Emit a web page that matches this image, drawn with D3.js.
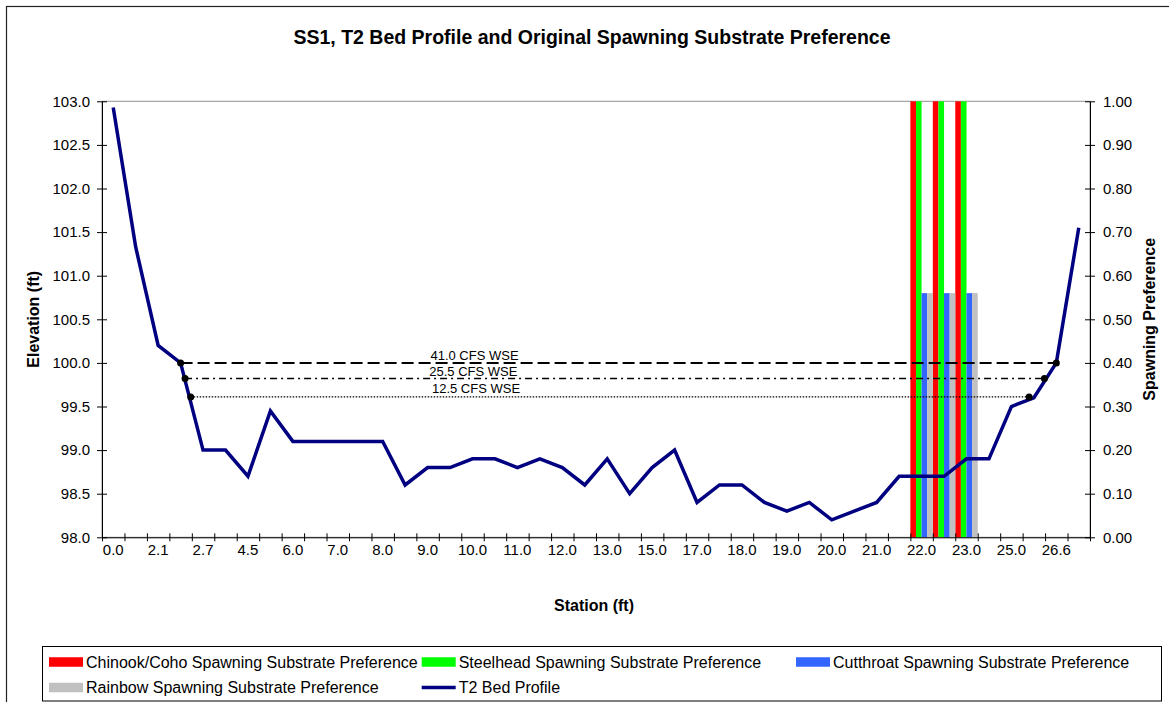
<!DOCTYPE html>
<html>
<head>
<meta charset="utf-8">
<script src="https://cdn.jsdelivr.net/npm/d3@7"></script>
<style>
body { margin: 0; background: #fff; }
text { font-family: "Liberation Sans", Arial, sans-serif; fill: #000; }
</style>
</head>
<body>
<svg id="chart" width="1169" height="702"></svg>
<script>

// station categories (every second one is labelled on the axis)
var stations = ["0.0", "1.0", "2.1", "2.5", "2.7", "3.5", "4.5", "5.0", "6.0", "6.5",
    "7.0", "7.5", "8.0", "8.5", "9.0", "9.5", "10.0", "10.5", "11.0", "11.5",
    "12.0", "12.5", "13.0", "14.0", "15.0", "16.0", "17.0", "17.5", "18.0", "18.5",
    "19.0", "19.5", "20.0", "20.5", "21.0", "21.5", "22.0", "22.5", "23.0", "24.0",
    "25.0", "26.0", "26.6", "27.0"];

var bedElev = [102.93, 101.33, 100.2, 100.0, 99.0, 99.0, 98.7, 99.45, 99.1, 99.1,
    99.1, 99.1, 99.1, 98.6, 98.8, 98.8, 98.9, 98.9, 98.8, 98.9,
    98.8, 98.6, 98.9, 98.5, 98.8, 99.0, 98.4, 98.6, 98.6, 98.4,
    98.3, 98.4, 98.2, 98.3, 98.4, 98.7, 98.7, 98.7, 98.9, 98.9,
    99.5, 99.6, 100.0, 101.55];

// spawning substrate preference (zero everywhere else)
var prefStations = ["22.0", "22.5", "23.0"];
var chinookPref = [1.0, 1.0, 1.0];
var steelheadPref = [1.0, 1.0, 1.0];
var cutthroatPref = [0.56, 0.56, 0.56];
var rainbowPref = [0.56, 0.56, 0.56];

// water surface elevations, start / end given as station index
var wseNames = ["41.0 CFS WSE", "25.5 CFS WSE", "12.5 CFS WSE"];
var wseElev = [100.0, 99.82, 99.61];
var wseFrom = [3, 3.2, 3.45];
var wseTo = [42, 41.47, 40.79];

var elevTicks = [98.0, 98.5, 99.0, 99.5, 100.0, 100.5, 101.0, 101.5, 102.0, 102.5, 103.0];
var prefTicks = [0, 0.1, 0.2, 0.3, 0.4, 0.5, 0.6, 0.7, 0.8, 0.9, 1.0];

var seriesNames = ["Chinook/Coho Spawning Substrate Preference", "Steelhead Spawning Substrate Preference",
    "Cutthroat Spawning Substrate Preference", "Rainbow Spawning Substrate Preference"];
var seriesColors = ["#ff0000", "#00ff00", "#3366ff", "#c0c0c0"];
var seriesValues = [chinookPref, steelheadPref, cutthroatPref, rainbowPref];

var plotLeft = 102, plotRight = 1090, plotTop = 101.3, plotBottom = 537.3;

var svg = d3.select('#chart');

svg.append('rect').attr('width', 1169).attr('height', 702).attr('fill', '#fff');

// chart area border
svg.append('rect')
    .attr('x', 6.5).attr('y', 6.5)
    .attr('width', 1200).attr('height', 800)
    .attr('fill', 'none').attr('stroke', '#222').attr('stroke-width', 1.2);

var x = d3.scaleBand().domain(stations).range([plotLeft, plotRight]).padding(0);
var xIdx = d3.scaleLinear().domain([0, stations.length]).range([plotLeft, plotRight]);
var xSub = d3.scaleBand().domain(d3.range(seriesNames.length)).range([0, x.bandwidth()]).padding(0);
var yL = d3.scaleLinear().domain([98, 103]).range([plotBottom, plotTop]);
var yR = d3.scaleLinear().domain([0, 1]).range([plotBottom, plotTop]);

// plot area border
svg.append('rect')
    .attr('x', plotLeft).attr('y', plotTop)
    .attr('width', plotRight - plotLeft).attr('height', plotBottom - plotTop)
    .attr('fill', 'none').attr('stroke', '#909090').attr('stroke-width', 1);

// columns
seriesValues.forEach(function(vals, s){
    svg.append('g').selectAll('rect')
        .data(prefStations)
        .enter()
        .append('rect')
        .attr('x', function(d){ return x(d) + xSub(s); })
        .attr('width', xSub.bandwidth())
        .attr('y', function(d, i){ return yR(vals[i]); })
        .attr('height', function(d, i){ return yR(0) - yR(vals[i]); })
        .attr('fill', seriesColors[s]);
});

// water surface lines
var wseDash = ['12,5', '7,4,2,4', '1.5,1.5'];
var wseWidth = [2, 1.5, 1.3];
var labelY = [360, 375.5, 393.3];
var labelX = [474.5, 473.3, 476];

for(let i = 0; i < wseNames.length; i++){

    let x1 = xIdx(wseFrom[i] + 0.5);
    let x2 = xIdx(wseTo[i] + 0.5);

    svg.append('line')
        .attr('x1', x1).attr('x2', x2)
        .attr('y1', yL(wseElev[i])).attr('y2', yL(wseElev[i]))
        .attr('stroke', '#000')
        .attr('stroke-width', wseWidth[i])
        .attr('stroke-dasharray', wseDash[i]);

    svg.append('text')
        .attr('x', labelX[i]).attr('y', labelY[i])
        .attr('text-anchor', 'middle')
        .attr('font-size', '13px')
        .text(wseNames[i]);
}

// bed profile
var line = d3.line()
    .x(function(d, i){ return x(stations[i]) + x.bandwidth() / 2; })
    .y(function(d){ return yL(d); });

svg.append('path')
    .datum(bedElev)
    .attr('d', line)
    .attr('fill', 'none')
    .attr('stroke', '#000080')
    .attr('stroke-width', 3.5)
    .attr('stroke-linejoin', 'miter');

// wse end points
for(let i = 0; i < wseNames.length; i++){
    [wseFrom[i], wseTo[i]].forEach(function(p){
        svg.append('circle')
            .attr('cx', xIdx(p + 0.5))
            .attr('cy', yL(wseElev[i]))
            .attr('r', 3.5)
            .attr('fill', '#000');
    });
}

// axes
var axL = svg.append('g')
    .attr('transform', 'translate(' + plotLeft + ',0)')
    .call(d3.axisLeft(yL).tickValues(elevTicks).tickFormat(d3.format('.1f')).tickSize(5).tickSizeOuter(0).tickPadding(7));
axL.selectAll('.tick line').attr('x1', 5);

var axR = svg.append('g')
    .attr('transform', 'translate(' + plotRight + ',0)')
    .call(d3.axisRight(yR).tickValues(prefTicks).tickFormat(d3.format('.2f')).tickSize(5).tickSizeOuter(0).tickPadding(8));
axR.selectAll('.tick line').attr('x1', -5);

var axB = svg.append('g')
    .attr('transform', 'translate(0,' + plotBottom + ')')
    .call(d3.axisBottom(x)
        .tickFormat(function(d, i){ return i % 2 == 0 ? d : ''; })
        .tickSize(0).tickSizeOuter(0).tickPadding(7));

svg.append('g')
    .attr('transform', 'translate(0,' + plotBottom + ')')
    .call(d3.axisBottom(xIdx).tickValues(d3.range(0, stations.length + 1)).tickFormat('').tickSize(4).tickSizeOuter(0))
    .call(function(g){ g.select('.domain').remove(); })
    .selectAll('.tick line').attr('y1', -4).attr('stroke', '#000');

[axL, axR, axB].forEach(function(g){
    g.selectAll('text').attr('font-size', '15px').attr('font-family', '"Liberation Sans", Arial, sans-serif').attr('fill', '#000');
    g.selectAll('line, path').attr('stroke', '#000');
});

// titles
svg.append('text')
    .attr('x', 592).attr('y', 43.5)
    .attr('text-anchor', 'middle')
    .attr('font-size', '19.5px').attr('font-weight', 'bold')
    .text('SS1, T2 Bed Profile and Original Spawning Substrate Preference');

svg.append('text')
    .attr('x', 594).attr('y', 611)
    .attr('text-anchor', 'middle')
    .attr('font-size', '16px').attr('font-weight', 'bold')
    .text('Station (ft)');

svg.append('text')
    .attr('transform', 'translate(38.5,' + (plotTop + plotBottom) / 2 + ') rotate(-90)')
    .attr('text-anchor', 'middle')
    .attr('font-size', '16px').attr('font-weight', 'bold')
    .text('Elevation (ft)');

svg.append('text')
    .attr('transform', 'translate(1155,' + (plotTop + plotBottom) / 2 + ') rotate(-90)')
    .attr('text-anchor', 'middle')
    .attr('font-size', '16px').attr('font-weight', 'bold')
    .text('Spawning Preference');

// legend
svg.append('rect')
    .attr('x', 42.5).attr('y', 646.5)
    .attr('width', 1119).attr('height', 54.5)
    .attr('fill', '#fff').attr('stroke', '#000').attr('stroke-width', 1);

var legendItems = [
    {name: seriesNames[0], color: seriesColors[0], col: 0, row: 0},
    {name: seriesNames[1], color: seriesColors[1], col: 1, row: 0},
    {name: seriesNames[2], color: seriesColors[2], col: 2, row: 0},
    {name: seriesNames[3], color: seriesColors[3], col: 0, row: 1},
    {name: 'T2 Bed Profile', color: '#000080', col: 1, row: 1, isLine: true}
];
var colX = [49, 421.7, 796];
var rowY = [662, 687.5];

legendItems.forEach(function(item){
    let lx = colX[item.col];
    let ly = rowY[item.row];
    if(item.isLine){
        svg.append('line')
            .attr('x1', lx).attr('x2', lx + 34)
            .attr('y1', ly).attr('y2', ly)
            .attr('stroke', item.color).attr('stroke-width', 3.5);
    } else {
        svg.append('rect')
            .attr('x', lx).attr('y', ly - 4.75)
            .attr('width', 34).attr('height', 9.5)
            .attr('fill', item.color);
    }
    svg.append('text')
        .attr('x', lx + 37).attr('y', ly + 5.5)
        .attr('font-size', '16px')
        .text(item.name);
});

</script>
</body>
</html>
